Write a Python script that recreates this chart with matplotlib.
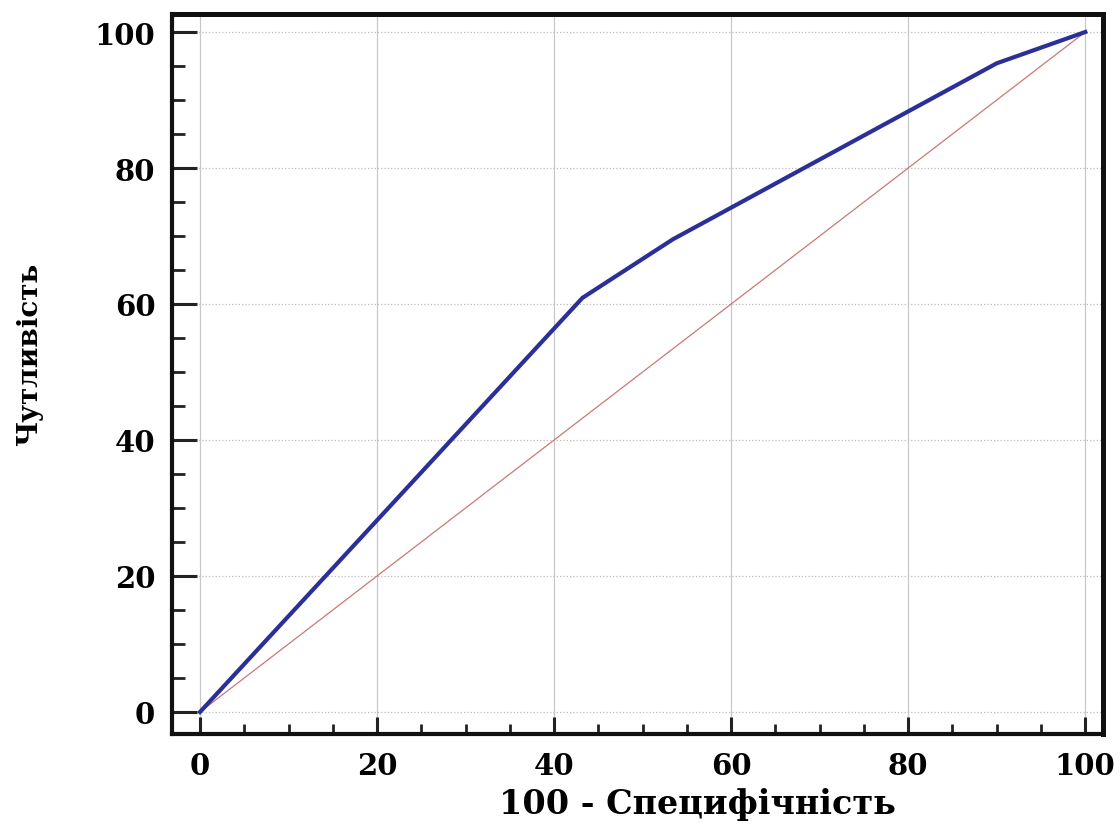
import numpy as np
import matplotlib
matplotlib.use('Agg')
import matplotlib.pyplot as plt
from matplotlib.ticker import MultipleLocator

# ROC curve points
fpr = [0.0, 43.2, 53.4, 90.0, 100.0]
tpr = [0.0, 60.9, 69.5, 95.4, 100.0]
diag = [0.0, 100.0]

x_label = '100 - Специфічність'
y_label = 'Чутливість'
ticks = [0, 20, 40, 60, 80, 100]

fig = plt.figure(figsize=(11.2, 8.28), dpi=100)
ax = fig.add_axes([0.1536, 0.1123, 0.8312, 0.8696])

ax.plot(diag, diag, color='#cc7777', linewidth=0.9, zorder=2)
ax.plot(fpr, tpr, color='#2b2f98', linewidth=3.0, solid_joinstyle='round', zorder=3)

ax.set_xlim(-3.16, 102.0)
ax.set_ylim(-3.24, 102.65)
ax.set_xticks(ticks)
ax.set_yticks(ticks)
ax.xaxis.set_minor_locator(MultipleLocator(5))
ax.yaxis.set_minor_locator(MultipleLocator(5))

ax.grid(True, axis='x', which='major', color='#c8c8c8', linewidth=0.9, linestyle='-')
ax.grid(True, axis='y', which='major', color='#bbbbbb', linewidth=0.9, linestyle=':')
ax.set_axisbelow(True)

for side in ['left', 'bottom']:
    ax.spines[side].set_linewidth(3.0)
for side in ['top', 'right']:
    ax.spines[side].set_linewidth(3.6)
for sp in ax.spines.values():
    sp.set_color('#111111')

ax.tick_params(axis='x', which='major', direction='in', length=12, width=2.2, color='#222222')
ax.tick_params(axis='x', which='minor', direction='in', length=7, width=2.0, color='#222222')
ax.tick_params(axis='y', which='major', direction='in', length=18, width=2.2, color='#222222')
ax.tick_params(axis='y', which='minor', direction='in', length=9, width=2.0, color='#222222')
ax.tick_params(axis='x', which='major', pad=12)
ax.tick_params(axis='y', which='major', pad=12)

for lab in ax.get_xticklabels() + ax.get_yticklabels():
    lab.set_fontfamily('DejaVu Serif')
    lab.set_fontweight('bold')
    lab.set_fontsize(21)

ax.set_xlabel(x_label, family='DejaVu Serif', fontweight='bold', fontsize=24)
ax.set_ylabel(y_label, family='DejaVu Serif', fontweight='bold', fontsize=20)
ax.xaxis.set_label_coords(0.564, -0.074)
ax.yaxis.set_label_coords(-0.139, 0.528)

fig.savefig('out.png', dpi=100)
